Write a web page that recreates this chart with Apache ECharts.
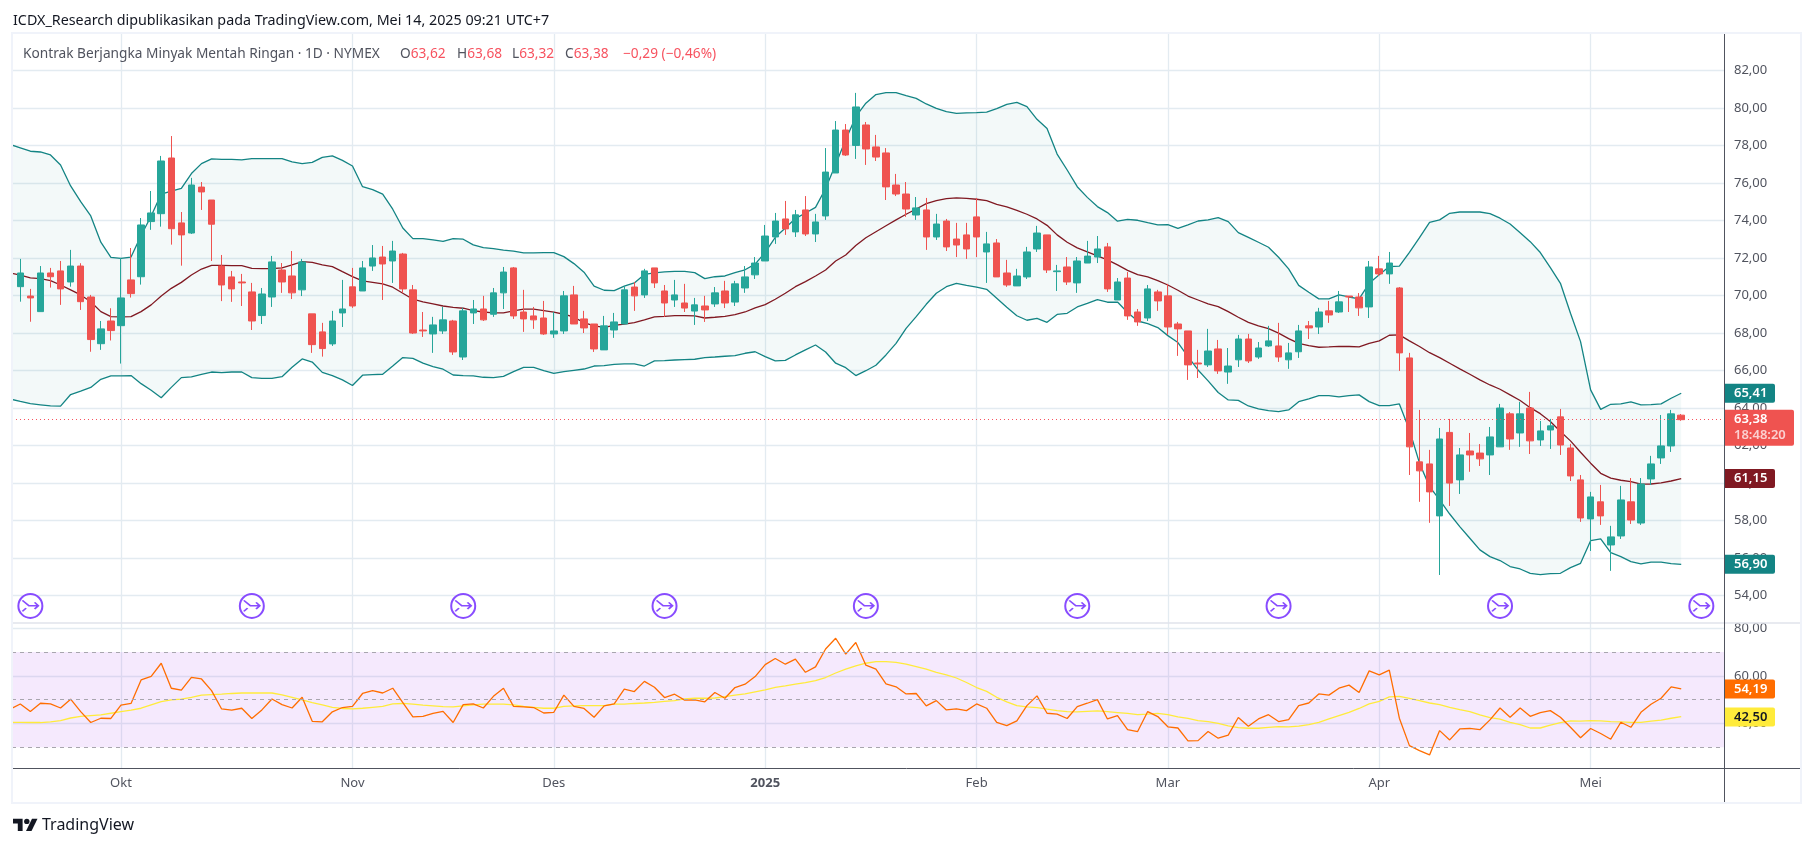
<!DOCTYPE html>
<html><head><meta charset="utf-8">
<style>html,body{margin:0;padding:0;background:#fff}#c{width:1814px;height:847px}</style>
<script src="https://cdn.jsdelivr.net/npm/echarts@6/dist/echarts.min.js"></script>
</head><body><div id="c"></div>
<script>
// Candles, index 0 .. 165
const opens=[70.47,69.97,69.14,71.2,71.31,70.72,71.57,69.92,67.43,68.64,68.39,70.83,71.0,73.94,74.36,77.33,73.87,73.33,75.78,75.09,71.57,70.99,70.72,70.19,68.93,69.92,71.36,71.04,70.3,69.02,68.06,67.42,69.07,70.46,70.24,71.57,72.05,71.84,72.21,70.3,68.16,67.95,68.11,68.64,66.72,69.07,69.28,69.0,70.14,71.47,69.12,68.91,68.8,67.95,68.11,70.03,68.75,68.48,67.1,68.16,68.48,70.45,70.03,71.47,70.24,69.76,69.6,69.17,69.44,69.55,70.24,69.65,70.4,71.1,71.84,73.12,74.08,73.39,74.56,73.28,74.24,76.53,78.82,78.0,79.09,77.92,77.6,75.89,75.41,74.29,74.56,73.12,73.97,73.01,73.23,74.19,72.32,72.8,71.2,70.51,70.99,72.48,73.23,71.27,71.52,70.67,71.73,72.05,72.59,69.76,70.93,69.12,68.8,70.19,69.98,68.48,68.11,66.4,66.3,67.15,65.92,66.57,67.68,66.72,67.31,67.31,66.57,67.0,68.38,68.32,69.18,69.12,69.97,69.92,69.39,71.42,71.15,70.4,66.67,61.13,61.02,58.25,62.7,60.17,61.71,61.6,61.5,61.93,63.69,62.67,64.0,62.3,62.83,63.53,61.87,60.17,58.09,59.0,56.7,57.18,59.0,57.87,60.22,61.34,61.98,63.62];
const closes=[71.2,69.87,71.2,71.0,70.35,71.57,69.67,67.65,68.22,68.13,69.87,70.1,73.76,74.4,77.17,73.56,73.23,75.89,75.52,73.8,70.56,70.35,70.67,68.64,70.08,71.79,70.72,70.14,71.79,67.38,67.17,68.64,69.28,69.44,71.47,72.0,71.68,72.37,70.35,68.0,68.11,68.43,68.7,66.99,69.18,69.28,68.7,70.14,71.25,68.91,68.75,68.7,67.95,68.11,69.98,68.48,68.27,67.15,68.38,68.59,70.3,69.98,71.31,70.67,69.6,70.03,69.33,69.5,69.23,70.14,69.6,70.62,70.99,71.73,73.17,73.97,73.55,74.3,73.28,73.92,76.58,78.82,77.49,80.05,77.81,77.38,75.79,75.41,74.61,74.67,73.12,73.81,72.59,72.69,72.48,73.12,72.75,70.99,70.56,71.04,72.32,73.33,71.36,71.31,70.72,71.84,72.1,72.48,70.35,70.72,68.91,68.59,70.35,69.71,68.32,68.22,66.3,66.35,67.04,65.98,66.24,67.68,66.51,67.2,67.58,66.72,66.94,68.11,68.27,69.12,68.96,69.66,69.92,69.34,71.52,71.15,71.73,66.94,61.93,60.65,59.53,62.35,60.0,61.5,61.5,61.29,62.46,64.0,62.35,63.69,62.25,62.78,63.05,62.03,60.38,58.14,59.26,58.25,57.13,59.1,58.03,59.95,61.02,61.98,63.69,63.38];
const lows=[69.67,68.6,69.14,70.42,69.5,70.47,69.23,67.0,67.1,67.6,66.37,69.89,70.58,73.5,73.67,72.71,71.59,73.28,74.56,71.84,69.7,69.66,69.44,68.16,68.48,69.39,70.14,69.81,69.97,66.94,66.74,67.31,68.32,69.34,70.24,71.31,69.76,70.67,70.14,67.95,67.79,66.94,67.95,66.83,66.56,68.48,68.64,68.86,69.28,68.75,68.06,68.22,67.9,67.74,67.95,68.48,68.0,66.99,67.1,67.74,68.48,69.18,69.87,70.4,68.86,69.39,69.12,68.43,68.59,69.39,69.33,69.44,70.14,70.88,71.84,72.75,73.23,73.12,73.17,72.85,74.03,76.53,77.44,77.28,76.96,77.17,75.09,75.3,74.19,74.03,72.43,72.96,72.37,72.05,71.95,72.05,70.67,70.99,70.46,70.51,70.88,72.32,71.2,70.24,70.56,70.14,71.73,71.73,70.19,69.76,68.7,68.38,68.64,69.18,67.9,66.78,65.5,65.6,66.19,65.82,65.29,66.19,66.4,66.62,67.26,66.46,66.09,66.67,67.68,67.95,68.54,69.07,69.12,68.91,68.8,71.04,70.62,65.98,60.43,59.0,57.88,55.1,58.78,59.42,60.6,60.91,60.43,61.93,61.77,61.93,61.55,61.98,61.82,61.5,60.11,57.93,56.38,57.77,55.32,57.02,57.82,57.77,59.9,61.02,61.66,63.32];
const highs=[71.95,70.35,71.57,71.47,71.84,72.43,71.72,70.03,68.64,69.32,72.0,72.53,74.13,75.57,77.44,78.5,74.45,76.27,76.05,75.09,72.16,71.31,71.15,70.67,70.4,72.11,71.73,72.37,71.95,69.02,68.54,69.18,70.83,71.47,71.84,72.69,72.64,72.91,72.27,70.56,69.12,68.86,69.39,68.7,69.34,69.76,69.98,70.4,71.52,71.52,70.3,69.39,69.71,69.12,70.24,70.51,69.18,68.48,68.91,69.07,70.5,70.72,71.42,71.47,70.56,70.83,70.62,69.87,69.98,70.45,70.78,70.78,71.57,72.05,73.76,74.4,75.04,74.56,75.3,74.35,77.86,79.3,79.14,80.8,79.25,78.56,77.86,76.48,76.05,75.25,75.2,74.35,74.08,73.87,73.87,75.2,73.39,73.01,71.9,71.42,72.59,73.71,73.23,71.63,72.05,72.05,72.91,73.17,72.8,70.93,71.25,69.28,70.56,70.3,70.62,68.59,68.11,67.1,68.22,67.63,67.2,67.9,67.95,67.52,68.38,68.54,67.47,68.43,68.64,69.34,69.71,70.24,69.97,70.13,71.84,72.11,72.32,70.45,66.94,63.9,61.77,62.94,63.42,61.87,62.67,62.08,62.99,64.22,63.79,64.33,64.86,63.31,63.42,63.95,62.09,60.43,59.53,59.9,57.72,59.85,60.27,60.27,61.45,63.63,63.9,63.68];
// Bollinger Bands, index -1 .. 165
const upperBand=[78.05,77.87,77.69,77.65,77.49,76.96,75.84,75.0,74.24,72.84,72.03,71.98,72.05,73.2,74.24,75.41,75.57,75.71,76.5,77.03,77.28,77.26,77.26,77.23,77.3,77.3,77.3,77.3,77.12,77.03,77.1,77.36,77.44,77.2,76.9,75.8,75.64,75.4,74.6,73.6,73.03,73.03,72.97,72.88,73.03,73.0,72.7,72.55,72.5,72.42,72.36,72.27,72.27,72.29,72.29,72.07,71.7,71.24,70.5,70.28,70.26,70.5,70.67,71.12,71.21,71.26,71.29,71.29,71.22,70.9,71.0,71.04,71.22,71.37,71.67,72.3,73.1,73.6,74.1,74.4,74.7,75.7,77.0,78.3,79.53,80.25,80.71,80.81,80.81,80.65,80.51,80.21,79.98,79.8,79.71,79.73,79.75,79.78,79.96,80.19,80.3,80.07,79.39,78.9,77.54,76.69,75.8,75.23,74.74,74.42,73.96,74.06,74.01,73.88,73.76,73.78,73.58,73.76,73.97,74.03,74.15,73.94,73.35,73.1,72.84,72.57,72.04,71.42,70.54,70.17,69.82,69.82,70.03,69.92,69.82,70.65,71.1,71.54,71.57,72.3,73.08,73.9,74.03,74.38,74.45,74.45,74.45,74.36,74.12,73.81,73.35,72.87,72.29,71.49,70.65,69.05,67.54,64.97,63.93,64.2,64.22,64.33,64.17,64.18,64.22,64.52,64.79];
const middleBand=[71.2,71.09,70.94,70.9,70.79,70.56,70.3,70.03,69.67,69.14,68.87,68.86,68.87,69.14,69.5,69.97,70.38,70.7,71.09,71.41,71.6,71.6,71.59,71.59,71.45,71.43,71.43,71.47,71.63,71.81,71.77,71.63,71.54,71.27,71.01,70.78,70.7,70.62,70.44,70.12,69.8,69.66,69.55,69.44,69.37,69.32,69.19,69.12,69.07,69.07,69.18,69.27,69.27,69.19,69.11,69.0,68.84,68.55,68.38,68.3,68.41,68.47,68.55,68.7,68.86,68.89,68.93,68.93,68.91,68.8,68.84,68.89,68.98,69.12,69.34,69.51,69.8,70.12,70.47,70.74,71.04,71.36,71.84,72.16,72.66,73.08,73.4,73.72,74.03,74.33,74.61,74.9,75.06,75.16,75.2,75.18,75.13,75.06,74.86,74.72,74.54,74.33,74.08,73.74,73.23,72.84,72.54,72.32,72.11,71.9,71.63,71.34,71.11,70.99,70.79,70.56,70.28,69.97,69.76,69.55,69.41,69.14,68.84,68.57,68.38,68.23,67.99,67.7,67.45,67.33,67.24,67.26,67.29,67.28,67.26,67.45,67.58,67.88,67.9,67.58,67.28,66.95,66.69,66.39,66.09,65.8,65.5,65.23,65.0,64.7,64.4,64.02,63.7,63.28,62.75,62.25,61.64,61.06,60.52,60.26,60.15,60.08,59.94,59.95,60.01,60.11,60.24];
const lowerBand=[64.48,64.35,64.23,64.17,64.11,64.1,64.72,64.9,65.1,65.53,65.71,65.71,65.73,65.3,64.95,64.55,65.1,65.62,65.66,65.8,65.92,65.89,65.92,65.92,65.62,65.58,65.58,65.67,66.17,66.62,66.45,65.9,65.73,65.5,65.2,65.75,65.78,65.8,66.24,66.69,66.65,66.39,66.21,66.07,65.76,65.73,65.71,65.64,65.62,65.69,65.94,66.17,66.17,66.0,65.85,65.94,66.01,66.08,66.24,66.26,66.33,66.35,66.35,66.24,66.51,66.53,66.56,66.58,66.6,66.69,66.72,66.76,66.79,66.92,67.0,66.74,66.51,66.54,66.83,67.1,67.36,66.99,66.39,66.15,65.73,65.99,66.28,66.83,67.45,68.25,68.87,69.53,70.12,70.47,70.65,70.54,70.44,70.33,69.85,69.37,68.92,68.68,68.78,68.57,68.99,69.05,69.39,69.58,69.78,69.64,69.65,69.09,68.64,68.5,68.29,67.86,67.49,66.74,66.03,65.45,64.83,64.43,64.41,64.11,63.95,63.86,63.81,63.9,64.34,64.49,64.66,64.66,64.59,64.66,64.7,64.34,64.13,64.13,64.22,62.83,61.06,59.81,59.1,58.35,57.68,57.06,56.44,56.08,55.87,55.55,55.42,55.19,55.12,55.17,55.19,55.49,55.72,56.93,57.02,56.29,56.08,55.81,55.69,55.78,55.78,55.71,55.67];
// RSI and its moving average, index -1 .. 165
const rsiLine=[46.0,48.2,45.0,48.5,48.2,46.5,50.2,45.0,40.4,42.2,42.1,47.7,48.4,58.3,59.8,65.3,54.8,54.0,59.4,58.7,53.8,46.1,45.6,46.4,42.1,45.7,50.3,47.9,46.5,51.0,40.9,40.7,44.9,46.7,47.2,52.6,53.8,52.8,54.8,48.8,42.8,43.0,44.2,45.1,40.4,47.9,48.2,46.5,51.4,54.8,47.2,47.0,46.7,44.4,44.7,51.9,47.2,46.3,42.6,47.4,48.2,54.4,53.4,57.7,55.2,50.9,52.3,49.8,49.9,49.1,53.0,50.6,55.1,56.5,59.7,64.7,67.3,64.9,67.0,61.5,63.8,71.3,75.8,69.1,74.0,64.5,62.8,56.6,55.4,52.4,52.6,47.4,49.6,45.7,46.1,45.4,48.2,46.4,40.5,39.1,41.1,47.5,51.6,44.3,43.9,42.1,47.1,48.5,50.0,41.9,43.3,37.4,36.6,45.0,42.9,38.6,38.1,32.7,32.8,36.6,33.8,35.1,42.5,38.8,41.9,43.7,40.8,41.6,47.5,48.6,52.4,51.9,54.8,56.1,53.0,62.1,60.4,62.4,42.2,30.7,28.6,26.8,37.0,33.1,37.7,37.9,37.4,41.5,46.5,42.6,46.5,43.0,44.6,45.4,42.6,38.4,34.0,37.9,35.8,33.4,40.5,38.4,44.7,48.1,50.6,55.4,54.5];
const rsiAverage=[40.5,40.5,40.4,40.4,40.7,41.2,42.3,43.0,43.3,43.6,44.3,45.0,45.6,46.4,47.8,49.2,49.9,50.2,51.0,51.9,52.1,52.3,52.6,52.8,52.8,52.8,52.8,52.0,51.0,49.9,48.8,47.8,46.8,46.3,46.1,46.4,46.8,47.2,48.2,48.4,48.1,47.7,47.4,47.1,47.0,47.4,47.8,48.1,48.1,48.1,47.8,47.2,46.8,46.4,46.4,47.2,47.4,47.5,47.5,47.5,48.1,48.1,48.4,48.6,48.9,49.3,49.6,50.3,50.6,50.6,50.7,51.3,51.9,52.4,53.3,54.1,55.2,55.8,56.5,57.2,58.0,59.3,61.2,62.8,64.2,65.3,66.0,66.0,65.7,64.9,63.9,62.8,61.5,60.4,59.1,57.2,55.1,53.5,51.0,49.1,47.5,47.0,46.7,46.0,45.4,45.0,44.9,45.1,45.3,45.0,44.6,44.2,43.7,43.9,44.2,43.7,42.8,42.1,41.2,40.8,40.0,39.0,38.3,38.0,38.0,38.4,38.7,38.6,38.9,39.5,40.5,41.9,43.3,44.7,46.3,48.2,49.3,51.2,51.4,50.5,49.6,48.6,47.9,46.8,45.8,45.0,43.6,42.5,41.8,40.5,39.5,38.1,38.1,39.3,40.4,41.1,41.0,41.2,41.1,40.8,40.7,40.5,40.5,41.0,41.4,42.2,42.9];
// Axis ticks
const monthTicks=[10,33,53,74,95,114,135,156];
const monthLabels=['Okt','Nov','Des','2025','Feb','Mar','Apr','Mei'];
const rolloverIndex=[1,23,44,64,84,105,125,147,167];
const rolloverLevel=53.45;
const lastPrice=63.38;
const priceName='Kontrak Berjangka Minyak Mentah Ringan · 1D · NYMEX';
const ohlcLetters=['O','H','L','C'];
const ohlcValues=['63,62','63,68','63,32','63,38'];
const priceChange='−0,29 (−0,46%)';
const header='ICDX_Research dipublikasikan pada TradingView.com, Mei 14, 2025 09:21 UTC+7';
const brand='TradingView';

const FONT='"Noto Sans","Open Sans",Roboto,sans-serif';
const TXT='#50535e',GRID='#e3ebf1',UP='#26a69a',DOWN='#ef5350',TEAL='#138484',MARO='#801922',ORG='#ff6d00',YEL='#ffeb3b',PUR='#6a1fff',LEGRED='#f7525f';
const XMIN=-0.8245,XMAX=169.25;
const fmt=v=>v.toFixed(2).replace('.',',');
const withIndex=a=>a.map((v,i)=>[i-1,v]);
const tagLabel=(text,bg,fg)=>({show:true,position:'right',distance:0,formatter:text,backgroundColor:bg,color:fg,fontFamily:FONT,fontSize:13,fontWeight:600,width:37,padding:[3,4,3,10],align:'left',borderRadius:[0,2,2,0]});
const tag=(v,text,bg,fg)=>({coord:[XMAX,v],symbol:'circle',symbolSize:0,label:tagLabel(text,bg,fg)});
const xCommon=(idx)=>({type:'value',gridIndex:idx,min:XMIN,max:XMAX,axisLine:{show:false},
  axisTick:{show:false,customValues:monthTicks},splitLine:{show:true,lineStyle:{color:GRID,width:1.3}}});
const chart=echarts.init(document.getElementById('c'),null,{renderer:'canvas'});
const candles=opens.map((o,i)=>[i,o,closes[i],lows[i],highs[i]]);
const lineBase=(name,data,color,xi,yi,z)=>({type:'line',name,data,xAxisIndex:xi,yAxisIndex:yi,showSymbol:false,symbol:'none',z:z||3,silent:true,animation:false,lineStyle:{color,width:1.3}});
const legendX=[395,452,507,560];
const LEGTOP=42;
const legendText=(text,left,color)=>({text,left:left,top:LEGTOP,padding:5,textStyle:{fontFamily:FONT,fontSize:13.7,fontWeight:400,color}});
const ohlcTitles=[];
ohlcLetters.forEach((l,i)=>{ohlcTitles.push({text:`{g|${l}}{r|${ohlcValues[i]}}`,left:legendX[i],top:LEGTOP,padding:5,
  textStyle:{fontWeight:400,rich:{g:{fontFamily:FONT,fontSize:13.7,fontWeight:400,color:TXT},r:{fontFamily:FONT,fontSize:13.7,fontWeight:400,color:LEGRED}}}});});
chart.setOption({
  animation:false,backgroundColor:'#fff',
  title:[
   {text:header,left:8,top:9,padding:5,textStyle:{fontFamily:FONT,fontSize:14.3,fontWeight:400,color:'#131722'}},
   legendText(priceName,18,TXT),
   ...ohlcTitles,
   legendText(priceChange,618,LEGRED)
  ],
  grid:[{left:12,right:90,top:34,height:589,containLabel:false},{left:12,right:90,top:623,height:145}],
  xAxis:[
   Object.assign(xCommon(0),{axisLabel:{show:false}}),
   Object.assign(xCommon(1),{axisLabel:{show:true,customValues:monthTicks,margin:9,fontFamily:FONT,fontSize:13,color:TXT,
     formatter:v=>{const l=monthLabels[monthTicks.indexOf(v)];return l==='2025'?`{b|${l}}`:l;},rich:{b:{fontFamily:FONT,fontSize:13,fontWeight:700,color:TXT}}}})
  ],
  yAxis:[
   {type:'value',gridIndex:0,position:'right',min:52.54,max:83.94,splitNumber:15,scale:true,axisLine:{show:false},axisTick:{show:false},
    splitLine:{show:true,showMinLine:false,showMaxLine:false,lineStyle:{color:GRID,width:1.3}},
    axisLabel:{showMinLabel:false,showMaxLabel:false,formatter:fmt,margin:10,fontFamily:FONT,fontSize:13,color:TXT}},
   {type:'value',gridIndex:1,position:'right',min:21.3,max:82.2,splitNumber:3,axisLine:{show:false},axisTick:{show:false},
    splitLine:{show:true,showMinLine:false,showMaxLine:false,lineStyle:{color:GRID,width:1.3}},
    axisLabel:{showMinLabel:false,showMaxLabel:false,formatter:fmt,margin:10,fontFamily:FONT,fontSize:13,color:TXT}}
  ],
  series:[
   {type:'custom',name:'bbFill',coordinateSystem:'cartesian2d',xAxisIndex:0,yAxisIndex:0,data:withIndex(upperBand),encode:{x:0,y:1},z:1,silent:true,clip:true,
    renderItem:(params,api)=>{
      if(params.dataIndex!==0) return null;
      const top=upperBand.map((v,i)=>api.coord([i-1,v]));
      const bottom=lowerBand.map((v,i)=>api.coord([i-1,v])).reverse();
      return {type:'polygon',shape:{points:top.concat(bottom)},style:{fill:'rgba(19,132,132,0.05)'}};
    }},
   Object.assign(lineBase('upper',withIndex(upperBand),TEAL,0,0),{markPoint:{silent:true,z:20,data:[tag(upperBand[166],'65,41',TEAL,'#fff')]}}),
   Object.assign(lineBase('middle',withIndex(middleBand),MARO,0,0),{markPoint:{silent:true,z:20,data:[tag(middleBand[166],'61,15',MARO,'#fff')]}}),
   Object.assign(lineBase('lower',withIndex(lowerBand),TEAL,0,0),{markPoint:{silent:true,z:20,data:[tag(lowerBand[166],'56,90',TEAL,'#fff')]}}),
   {type:'candlestick',name:'candles',xAxisIndex:0,yAxisIndex:0,data:candles,encode:{x:0,y:[1,2,3,4]},barWidth:7,z:4,silent:true,clip:false,
    itemStyle:{color:UP,color0:DOWN,borderColor:UP,borderColor0:DOWN,borderWidth:1},
    markLine:{silent:true,symbol:'none',animation:false,label:{show:false},lineStyle:{color:LEGRED,type:[1,3],width:1},data:[{yAxis:lastPrice}]},
    markPoint:{silent:true,z:21,data:[{coord:[XMAX,lastPrice],symbol:'circle',symbolSize:0,label:{show:true,position:'right',distance:0,offset:[0,8],backgroundColor:DOWN,padding:[2,6,2,10],borderRadius:[0,2,2,0],
      formatter:'{a|63,38}\n{b|18:48:20}',rich:{a:{fontFamily:FONT,fontSize:13,fontWeight:600,color:'#fff',lineHeight:16,width:54},b:{fontFamily:FONT,fontSize:13,fontWeight:600,color:'#fbd0d0',lineHeight:16,width:54}}}}]}},
   {type:'scatter',name:'rollover',xAxisIndex:0,yAxisIndex:0,data:rolloverIndex.map(i=>[i,rolloverLevel]),symbol:'circle',symbolSize:24,z:6,silent:true,clip:false,
    itemStyle:{color:'#fff',borderColor:PUR,borderWidth:2}},
   {type:'scatter',name:'rolloverGlyph',xAxisIndex:0,yAxisIndex:0,data:rolloverIndex.map(i=>[i,rolloverLevel]),
    symbol:'path://M0 0.7 L7 6 L17 6 M13 2.7 L17 6 L13 9.3 M0 11.7 L4 8.3',symbolSize:[16,11],z:7,silent:true,clip:false,
    itemStyle:{color:'none',borderColor:PUR,borderWidth:1.6}},
   Object.assign(lineBase('rsiBand',withIndex(rsiLine),ORG,1,1,3),{
     markArea:{silent:true,itemStyle:{color:'rgba(163,55,238,0.11)'},data:[[{xAxis:XMIN,yAxis:70},{xAxis:XMAX,yAxis:30}]]},
     markLine:{silent:true,symbol:'none',label:{show:false},lineStyle:{color:'#a8a6ae',type:[4,4],width:1},data:[{yAxis:70},{yAxis:50},{yAxis:30}]},
     markPoint:{silent:true,z:21,data:[tag(54.5,'54,19',ORG,'#fff')]}}),
   Object.assign(lineBase('rsiMA',withIndex(rsiAverage),YEL,1,1,2),{markPoint:{silent:true,z:21,data:[tag(42.7,'42,50',YEL,'#131722')]}})
  ],
  graphic:[
   {type:'rect',z:100,silent:true,shape:{x:12,y:33,width:1789,height:770},style:{fill:'none',stroke:'#f0f3fa',lineWidth:2}},
   {type:'line',z:101,silent:true,shape:{x1:13,y1:623,x2:1800,y2:623},style:{stroke:'#e0e3eb',lineWidth:1.3}},
   {type:'line',z:101,silent:true,shape:{x1:13,y1:768.5,x2:1800,y2:768.5},style:{stroke:'#50535e',lineWidth:1}},
   {type:'line',z:101,silent:true,shape:{x1:1724.5,y1:34,x2:1724.5,y2:802},style:{stroke:'#50535e',lineWidth:1}},
   {type:'polygon',z:101,silent:true,shape:{points:[[13,818.7],[22.6,818.7],[22.6,831],[17.8,831],[17.8,823.5],[13,823.5]]},style:{fill:'#131722'}},
   {type:'polygon',z:101,silent:true,shape:{points:[[32,818.7],[37.5,818.7],[31.5,831],[26,831]]},style:{fill:'#131722'}},
   {type:'circle',z:101,silent:true,shape:{cx:26.8,cy:821.4,r:2.7},style:{fill:'#131722'}},
   {type:'text',z:101,silent:true,x:42,y:825,style:{text:brand,font:'16px "Noto Sans"',fill:'#131722',verticalAlign:'middle'}}
  ]
});
</script></body></html>
